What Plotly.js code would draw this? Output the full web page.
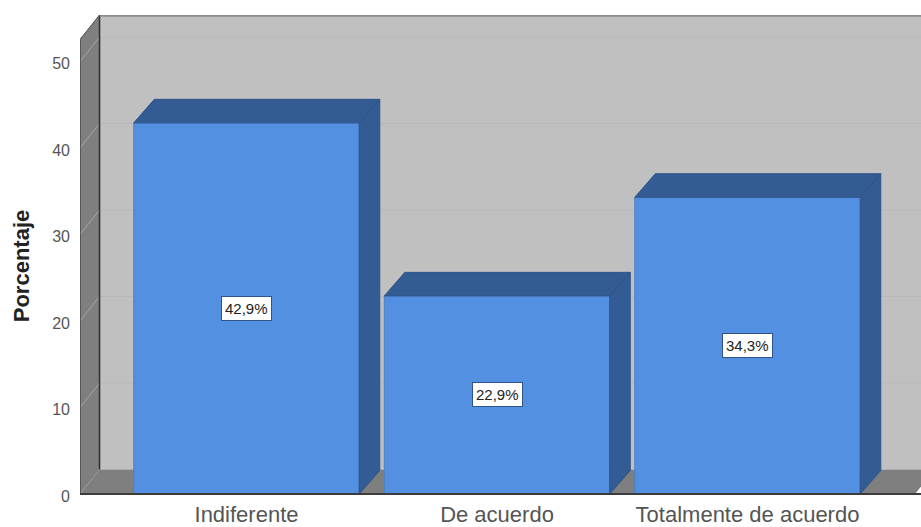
<!DOCTYPE html>
<html>
<head>
<meta charset="utf-8">
<script src="https://cdn.plot.ly/plotly-3.0.1.min.js"></script>
<style>html,body{margin:0;padding:0;background:#fff}#chart{width:921px;height:527px}</style>
</head>
<body>
<div id="chart"></div>
<script>
// Survey answers as percentages
const categories = ['Indiferente', 'De acuerdo', 'Totalmente de acuerdo'];
const percentages = [42.9, 22.9, 34.3];
const yTicks = [0, 10, 20, 30, 40, 50];

// Extent of the axes and the receding depth of the 3D frame, in data units
const xRange = [-0.6647, 2.6926];
const yRange = [-2.66, 55.37];
const floorEnd = 2.669;
const wallDx = 0.078, wallDy = 2.83;
const barDx = 0.082, barDy = 2.72;
const barWidth = 0.9;

const positions = categories.map((_, i) => i);
const xStart = xRange[0];

// Side and top faces of each bar, as one null-separated outline
const faceX = [], faceY = [];
percentages.forEach((v, i) => {
  const l = i - barWidth / 2, r = i + barWidth / 2;
  faceX.push(r, r + barDx, r + barDx, r, r, null);
  faceY.push(0, barDy, v + barDy, v, 0, null);
  faceX.push(l, l + barDx, r + barDx, r, l, null);
  faceY.push(v, v + barDy, v + barDy, v, v, null);
});

const traces = [
  {
    type: 'bar', x: positions, y: percentages, width: barWidth,
    marker: {color: '#5390e2', line: {color: '#4a80c8', width: 1}},
    hoverinfo: 'x+y', showlegend: false
  },
  {
    type: 'scatter', mode: 'lines', x: faceX, y: faceY, fill: 'toself',
    fillcolor: '#345c94', line: {color: '#2f5488', width: 1},
    hoverinfo: 'skip', showlegend: false
  }
];

const poly = pts => 'M' + pts.map(p => p.join(',')).join('L') + 'Z';
const edge = (xa, ya, xb, yb, color, width) => ({
  type: 'line', layer: 'below', xref: 'x', yref: 'y',
  x0: xa, y0: ya, x1: xb, y1: yb, line: {color, width}
});
const area = (pts, color) => ({
  type: 'path', layer: 'below', xref: 'x', yref: 'y', path: poly(pts),
  fillcolor: color, line: {width: 0}
});

const wallLeft = xStart + wallDx;
const wallTop = yRange[1];
const wallTopFront = wallTop - wallDy;
const shapes = [
  // back wall, left wall and floor
  area([[wallLeft, wallDy], [xRange[1], wallDy], [xRange[1], wallTop], [wallLeft, wallTop]], '#c0c0c0'),
  area([[xStart, 0], [wallLeft, wallDy], [wallLeft, wallTop], [xStart, wallTopFront]], '#7f7f7f'),
  area([[xStart, 0], [floorEnd, 0], [floorEnd + wallDx, wallDy], [wallLeft, wallDy]], '#7f7f7f')
];
// gridlines across the back wall and down the left wall
yTicks.filter(t => t > 0).forEach(t => {
  shapes.push(edge(wallLeft, t + wallDy, xRange[1], t + wallDy, '#b8b8b8', 1));
  shapes.push(edge(xStart, t, wallLeft, t + wallDy, '#a6a6a6', 1));
});
shapes.push(
  edge(wallLeft, wallDy, wallLeft, wallTop, '#2e2e2e', 1.5),
  edge(wallLeft, wallTop - 0.08, xRange[1], wallTop - 0.08, '#8c8c8c', 2),
  edge(xStart, 0, xStart, wallTopFront, '#4a4a4a', 1.5),
  edge(xStart, wallTopFront, wallLeft, wallTop, '#4a4a4a', 1)
);

const annotations = percentages.map((v, i) => ({
  x: i, y: v / 2, xref: 'x', yref: 'y', showarrow: false,
  text: v.toFixed(1).replace('.', ',') + '%',
  font: {family: 'Liberation Sans, Arial, sans-serif', size: 15, color: '#222'},
  bgcolor: '#ffffff', bordercolor: '#2f5488', borderwidth: 1, borderpad: 3
}));

const layout = {
  width: 921, height: 527,
  margin: {l: 80, r: 0, t: 15, b: 10},
  paper_bgcolor: '#ffffff', plot_bgcolor: '#ffffff',
  showlegend: false,
  font: {family: 'Liberation Sans, Arial, sans-serif'},
  xaxis: {
    range: xRange, anchor: 'free', position: 23 / 502,
    tickmode: 'array', tickvals: positions, ticktext: categories,
    tickfont: {size: 22, color: '#555'}, ticks: '', ticklabelstandoff: 1,
    showgrid: false, zeroline: false, showline: true, linecolor: '#3c3c3c', linewidth: 2
  },
  yaxis: {
    range: yRange, tickmode: 'array', tickvals: yTicks, ticktext: yTicks.map(String),
    tickfont: {size: 16, color: '#555'}, ticks: '', ticklabelstandoff: 9, ticklabelshift: 2,
    showgrid: false, zeroline: false, showline: false,
    title: {text: '<b>Porcentaje</b>', font: {size: 22, color: '#222'}, standoff: 16}
  },
  shapes, annotations
};

Plotly.newPlot('chart', traces, layout, {displayModeBar: false, responsive: false});
</script>
</body>
</html>
